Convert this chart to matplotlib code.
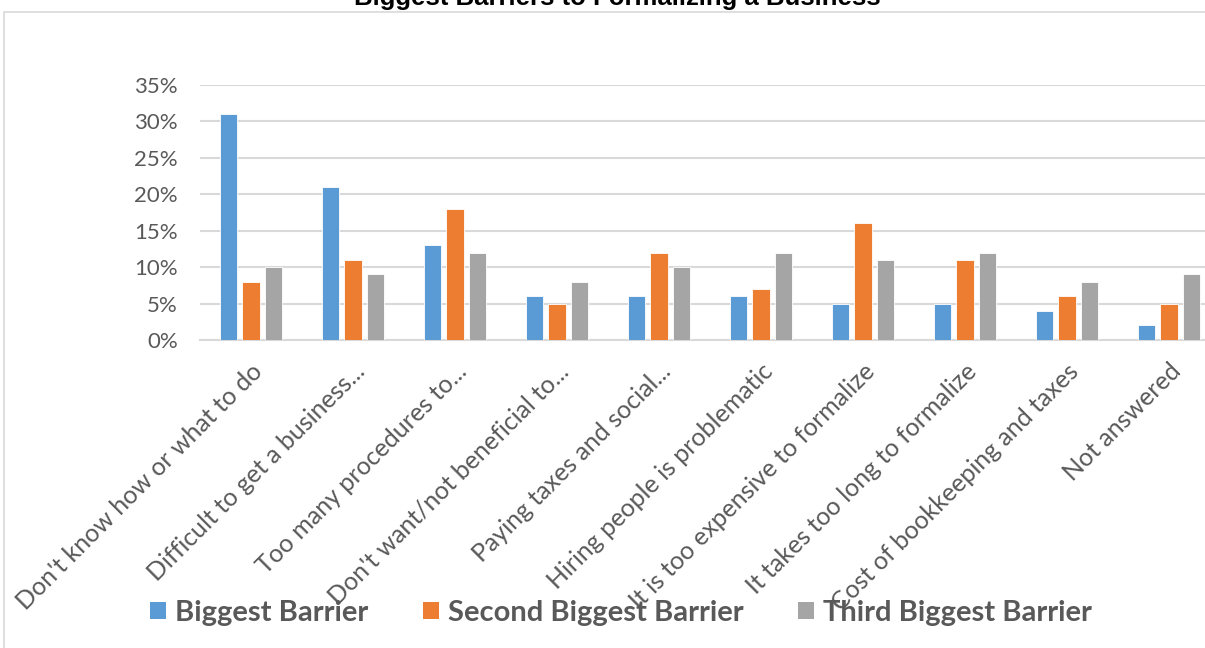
import matplotlib
matplotlib.use("Agg")
import matplotlib.pyplot as plt
import numpy as np
from matplotlib.patches import Rectangle, Patch
from matplotlib.ticker import PercentFormatter, MultipleLocator

categories = [
    "Don't know how or what to do",
    "Difficult to get a business...",
    "Too many procedures to...",
    "Don't want/not beneficial to...",
    "Paying taxes and social...",
    "Hiring people is problematic",
    "It is too expensive to formalize",
    "It takes too long to formalize",
    "Cost of bookkeeping and taxes",
    "Not answered",
]
biggest = [31, 21, 13, 6, 6, 6, 5, 5, 4, 2]
second = [8, 11, 18, 5, 12, 7, 16, 11, 6, 5]
third = [10, 9, 12, 8, 10, 12, 11, 12, 8, 9]
series_names = ["Biggest Barrier", "Second Biggest Barrier", "Third Biggest Barrier"]
colors = ["#5B9BD5", "#ED7D31", "#A5A5A5"]
title = "Biggest Barriers to Formalizing a Business"

W, H = 1205, 648
fig = plt.figure(figsize=(W / 100, H / 100), dpi=100)

# chart frame
fig.patches.append(Rectangle((4 / W, -0.1), 1.2, 1 - 12 / H + 0.1, transform=fig.transFigure,
                             fill=False, edgecolor="#D9D9D9", linewidth=1.2))

left, right, ybot, ytop = 200, 1220, 340, 85
ax = fig.add_axes([left / W, 1 - ybot / H, (right - left) / W, (ybot - ytop) / H])

x = np.arange(len(categories))
bw = 0.17
step = 0.222
for i, (vals, c) in enumerate(zip([biggest, second, third], colors)):
    ax.bar(x + (i - 1) * step, np.array(vals) / 100, width=bw, color=c,
           edgecolor="white", linewidth=0.6, zorder=3)

ax.set_xlim(-0.5, len(categories) - 0.5)
ax.set_ylim(0, 0.35)
ax.yaxis.set_major_locator(MultipleLocator(0.05))
ax.yaxis.set_major_formatter(PercentFormatter(1.0, decimals=0))
ax.grid(axis="y", color="#D9D9D9", linewidth=1.5, zorder=0)
for s in ["top", "right", "left"]:
    ax.spines[s].set_visible(False)
ax.spines["bottom"].set_color("#D9D9D9")
ax.spines["bottom"].set_linewidth(1.5)
ax.tick_params(axis="both", length=0, colors="#595959")
ax.tick_params(axis="y", labelsize=16, pad=16)
ax.set_xticks(x)
ax.set_xticklabels(categories, rotation=45, ha="right", rotation_mode="anchor",
                   fontsize=18, color="#595959")
ax.tick_params(axis="x", pad=14)
for lab in ax.get_xticklabels() + ax.get_yticklabels():
    lab.set_family("Lato")

fig.text(617 / W, 1 - 4.5 / H, title, ha="center", va="baseline", fontsize=18.5,
         fontweight="bold", family="Liberation Sans", color="black")

handles = [Patch(facecolor=c, edgecolor="none") for c in colors]
fig.legend(handles, series_names, loc="center", bbox_to_anchor=(621 / W, 1 - 613 / H),
           ncol=3, frameon=False, handlelength=0.55, handleheight=0.55, handletextpad=0.32,
           columnspacing=1.85,
           prop={"family": "Lato", "weight": "bold", "size": 21},
           labelcolor="#595959")

fig.savefig("out.png", dpi=100)
